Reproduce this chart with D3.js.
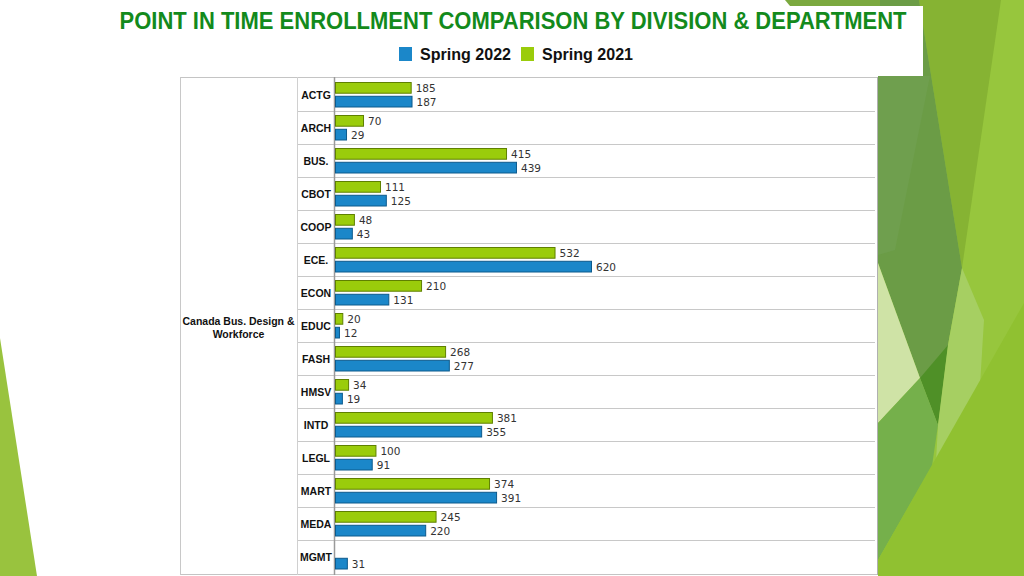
<!DOCTYPE html>
<html><head><meta charset="utf-8">
<script src="https://cdn.jsdelivr.net/npm/d3@7"></script>
<style>html,body{margin:0;padding:0;background:#fff;overflow:hidden}</style>
</head><body>
<svg id="c" width="1024" height="576"></svg>
<script>
const title = "POINT IN TIME ENROLLMENT COMPARISON BY DIVISION & DEPARTMENT";
const division = ["Canada Bus. Design &", "Workforce"];
const departments = ["ACTG","ARCH","BUS.","CBOT","COOP","ECE.","ECON","EDUC","FASH","HMSV","INTD","LEGL","MART","MEDA","MGMT"];
const spring2021 = [185,70,415,111,48,532,210,20,268,34,381,100,374,245,null];
const spring2022 = [187,29,439,125,43,620,131,12,277,19,355,91,391,220,31];
const seriesNames = ["Spring 2022","Spring 2021"];
const seriesColors = {"Spring 2022":"#1b87c9","Spring 2021":"#9acc0b"};
const seriesStroke = {"Spring 2022":"#0d5a8c","Spring 2021":"#5f8000"};

const svg = d3.select("#c");

// slide decoration
const deco = [
  {f:"#97c63d", p:[[878,0],[1024,0],[1024,576],[878,576]]},
  {f:"#86b333", p:[[919,0],[1001,0],[962,268]]},
  {f:"#6b9c46", p:[[878,0],[919,0],[962,268],[948,345],[938,425],[920,378],[878,263]]},
  {f:"#6f9f4e", p:[[878,76],[930,76],[895,250],[878,255]]},
  {f:"#cfe3a6", p:[[878,263],[920,378],[878,423]]},
  {f:"#4f9027", p:[[920,378],[948,345],[938,425]]},
  {f:"#a6cf62", p:[[962,268],[984,320],[980,385],[936,462],[938,425],[948,345]]},
  {f:"#75b04b", p:[[878,423],[920,378],[938,425],[932,466],[878,560]]},
  {f:"#90c131", p:[[878,560],[1024,303],[1024,576],[878,576]]},
  {f:"#7ba93f", p:[[785,0],[880,0],[880,6],[790,6]]},
  {f:"#99c33e", p:[[0,338],[0,576],[37,576]]}
];
svg.append("g").selectAll("polygon").data(deco).join("polygon")
  .attr("points", d => d.p.map(q => q.join(",")).join(" "))
  .attr("fill", d => d.f);

// title box
svg.append("rect").attr("x",95).attr("y",6).attr("width",828).attr("height",70).attr("fill","#fff");
svg.append("text").attr("x",513).attr("y",29).attr("text-anchor","middle")
  .attr("font-family","Liberation Sans, Arial, sans-serif").attr("font-weight","bold")
  .attr("font-size",24.5).attr("fill","#138a1c")
  .attr("textLength",787).attr("lengthAdjust","spacingAndGlyphs").text(title);

// legend
const legendX = {"Spring 2022":399,"Spring 2021":521};
const lg = svg.append("g").selectAll("g").data(seriesNames).join("g")
  .attr("transform", d => `translate(${legendX[d]},47)`);
lg.append("rect").attr("width",13).attr("height",14).attr("fill", d => seriesColors[d]);
lg.append("text").attr("x",21).attr("y",13).attr("font-family","Liberation Sans, Arial, sans-serif")
  .attr("font-weight","bold").attr("font-size",16.5).attr("fill","#111")
  .attr("textLength",91).attr("lengthAdjust","spacingAndGlyphs").text(d => d);

// chart table
const frameL = 180, frameR = 878, frameT = 77, frameB = 575;
const colDiv = 297, axisX = 335;
svg.append("rect").attr("x",frameL).attr("y",frameT).attr("width",frameR-frameL).attr("height",frameB-frameT).attr("fill","#fff");

const y = d3.scaleBand().domain(departments).range([78, 573]).paddingInner(0).paddingOuter(0);
const inner = d3.scaleBand().domain(["Spring 2021","Spring 2022"]).range([4, 29.5]).paddingInner(0.15);
const x = d3.scaleLinear().domain([0, d3.max(spring2022.concat(spring2021))]).range([axisX, 592]);

const g = svg.append("g");
// row separators
g.selectAll("line.row").data(departments.slice(1)).join("line")
  .attr("x1", colDiv).attr("x2", frameR-3)
  .attr("y1", d => y(d)+0.5).attr("y2", d => y(d)+0.5)
  .attr("stroke","#c8c8c8");
// frame
g.append("line").attr("x1",frameL).attr("x2",frameR).attr("y1",frameT+0.5).attr("y2",frameT+0.5).attr("stroke","#c4c4c4");
g.append("line").attr("x1",frameL).attr("x2",frameR).attr("y1",frameB-0.5).attr("y2",frameB-0.5).attr("stroke","#c4c4c4");
g.append("line").attr("x1",frameL+0.5).attr("x2",frameL+0.5).attr("y1",frameT).attr("y2",frameB).attr("stroke","#c8c8c8");
g.append("line").attr("x1",frameR-0.5).attr("x2",frameR-0.5).attr("y1",frameT).attr("y2",frameB).attr("stroke","#b0b0b0");
g.append("line").attr("x1",colDiv+0.5).attr("x2",colDiv+0.5).attr("y1",frameT).attr("y2",frameB).attr("stroke","#d0d0d0");
g.append("line").attr("x1",axisX-0.5).attr("x2",axisX-0.5).attr("y1",frameT).attr("y2",frameB).attr("stroke","#9a9a9a").attr("stroke-width",1.5);

// department labels
g.selectAll("text.dept").data(departments).join("text")
  .attr("x", 316).attr("y", d => y(d) + y.bandwidth()/2 + 4)
  .attr("text-anchor","middle").attr("font-family","Liberation Sans, Arial, sans-serif")
  .attr("font-weight","bold").attr("font-size",10.5).attr("fill","#111").text(d => d);

// division label
g.append("text").attr("x",238.5).attr("y",325).attr("text-anchor","middle")
  .attr("font-family","Liberation Sans, Arial, sans-serif").attr("font-weight","bold")
  .attr("font-size",10.5).attr("fill","#111")
  .selectAll("tspan").data(division).join("tspan")
  .attr("x",238.5).attr("dy",(d,i)=> i===0 ? 0 : 12.5).text(d => d);

// bars
const rows = [];
departments.forEach((d,i) => {
  rows.push({dept:d, series:"Spring 2021", v:spring2021[i]});
  rows.push({dept:d, series:"Spring 2022", v:spring2022[i]});
});
const valid = rows.filter(r => r.v != null);
g.selectAll("rect.bar").data(valid).join("rect")
  .attr("x", x(0)+0.5)
  .attr("y", d => y(d.dept) + inner(d.series) + 0.5)
  .attr("width", d => x(d.v) - x(0) - 1)
  .attr("height", inner.bandwidth() - 1)
  .attr("fill", d => seriesColors[d.series])
  .attr("stroke", d => seriesStroke[d.series]).attr("stroke-width",1);
g.selectAll("text.val").data(valid).join("text")
  .attr("x", d => x(d.v) + 4)
  .attr("y", d => y(d.dept) + inner(d.series) + inner.bandwidth()/2 + 4)
  .attr("font-family","DejaVu Sans, Verdana, sans-serif").attr("font-size",10.5)
  .attr("fill","#333").text(d => d.v);
</script>
</body></html>
